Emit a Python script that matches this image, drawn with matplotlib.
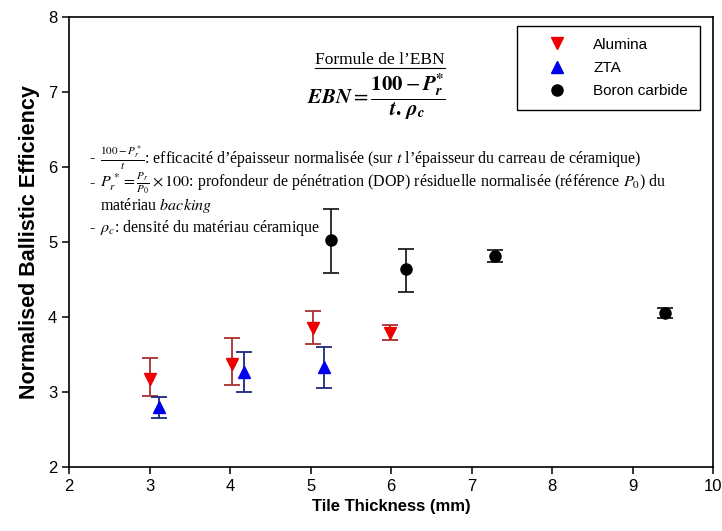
import numpy as np
import matplotlib.pyplot as plt

plt.rcParams['mathtext.fontset'] = 'stix'

# -------- Data --------
alu_x = [3.0, 4.03, 5.03, 5.99]
alu_y = [3.18, 3.38, 3.85, 3.79]
alu_lo = [2.95, 3.09, 3.64, 3.70]
alu_hi = [3.46, 3.72, 4.08, 3.90]

zta_x = [3.12, 4.17, 5.17]
zta_y = [2.80, 3.27, 3.34]
zta_lo = [2.65, 3.00, 3.06]
zta_hi = [2.93, 3.54, 3.60]

bc_x = [5.25, 6.18, 7.29, 9.40]
bc_y = [5.03, 4.64, 4.82, 4.06]
bc_lo = [4.59, 4.33, 4.73, 3.99]
bc_hi = [5.44, 4.91, 4.89, 4.12]

x_ticks = [2, 3, 4, 5, 6, 7, 8, 9, 10]
y_ticks = [2, 3, 4, 5, 6, 7, 8]

fig = plt.figure(figsize=(7.22, 5.31), dpi=100)
ax = fig.add_axes([0.0956, 0.1205, 0.892, 0.8475])


def err(y, lo, hi):
    y = np.array(y)
    return [y - np.array(lo), np.array(hi) - y]


h1 = ax.errorbar(alu_x, alu_y, yerr=err(alu_y, alu_lo, alu_hi), fmt='v', color='#ee0000',
                 ms=9, ecolor='#a83030', elinewidth=1.3, capsize=5.5, capthick=1.3)
h2 = ax.errorbar(zta_x, zta_y, yerr=err(zta_y, zta_lo, zta_hi), fmt='^', color='#0000ee',
                 ms=9, ecolor='#1c2a80', elinewidth=1.3, capsize=5.5, capthick=1.3)
h3 = ax.errorbar(bc_x, bc_y, yerr=err(bc_y, bc_lo, bc_hi), fmt='o', color='black',
                 ms=8, ecolor='#202020', elinewidth=1.3, capsize=5.5, capthick=1.3)

ax.set_xlim(2, 10)
ax.set_ylim(2, 8)
ax.set_xticks(x_ticks)
ax.set_yticks(y_ticks)
ax.tick_params(direction='out', length=5, width=1.1, labelsize=12)
for lab in ax.get_xticklabels() + ax.get_yticklabels():
    lab.set_fontfamily('Liberation Sans')
for s in ax.spines.values():
    s.set_linewidth(1.2)

ax.set_xlabel('Tile Thickness (mm)', fontsize=12, fontweight='bold',
              fontfamily='Liberation Sans', labelpad=4)
ax.set_ylabel('Normalised Ballistic Efficiency', fontsize=15.5, fontweight='bold',
              fontfamily='Liberation Sans', labelpad=6)

leg = ax.legend([h1[0], h2[0], h3[0]], ['Alumina', 'ZTA', 'Boron carbide'],
                loc='upper right', bbox_to_anchor=(0.992, 0.998), fancybox=False,
                edgecolor='black', framealpha=1, prop={'family': 'Liberation Sans', 'size': 11},
                borderpad=0.8, handletextpad=0.6, labelspacing=0.6, handlelength=3.6)
leg.get_frame().set_linewidth(1.0)

# -------- Formula annotation --------
serif = 'Liberation Serif'
fs = 11.5
title = ax.text(5.86, 7.42, 'Formule de l’EBN', ha='center', va='center',
                fontsize=12.5, fontfamily=serif)
ax.text(5.82, 6.93,
        r'$\mathbfit{EBN} = \dfrac{\mathbf{100} - \mathbfit{P}_{\mathbfit{r}}^{\mathbf{*}}}'
        r'{\mathbfit{t}\mathbf{.}\,\mathbfit{\rho}_{\mathbfit{c}}}$',
        ha='center', va='center', fontsize=15)

bx = 2.25
tx = 2.39
ax.text(bx, 6.12, '-', ha='left', va='center', fontsize=fs, fontfamily=serif)
ax.text(tx, 6.12, r'$\frac{100-P_r^*}{t}$: efficacité d’épaisseur normalisée '
        r'(sur $t$ l’épaisseur du carreau de céramique)',
        ha='left', va='center', fontsize=fs, fontfamily=serif)
ax.text(bx, 5.78, '-', ha='left', va='center', fontsize=fs, fontfamily=serif)
ax.text(tx, 5.78, r'$P_r^* = \frac{P_r}{P_0} \times 100$: profondeur de pénétration '
        r'(DOP) résiduelle normalisée (référence $P_0$) du',
        ha='left', va='center', fontsize=fs, fontfamily=serif)
ax.text(tx, 5.49, r'matériau $\mathit{backing}$', ha='left', va='center',
        fontsize=fs, fontfamily=serif)
ax.text(bx, 5.19, '-', ha='left', va='center', fontsize=fs, fontfamily=serif)
ax.text(tx, 5.19, r'$\rho_c$: densité du matériau céramique', ha='left', va='center',
        fontsize=fs, fontfamily=serif)

# underline the title
fig.canvas.draw()
bb = title.get_window_extent().transformed(ax.transData.inverted())
ax.plot([bb.x0, bb.x1], [bb.y0 + 0.01, bb.y0 + 0.01], color='black', lw=0.8)

fig.savefig('out.png', dpi=100)
